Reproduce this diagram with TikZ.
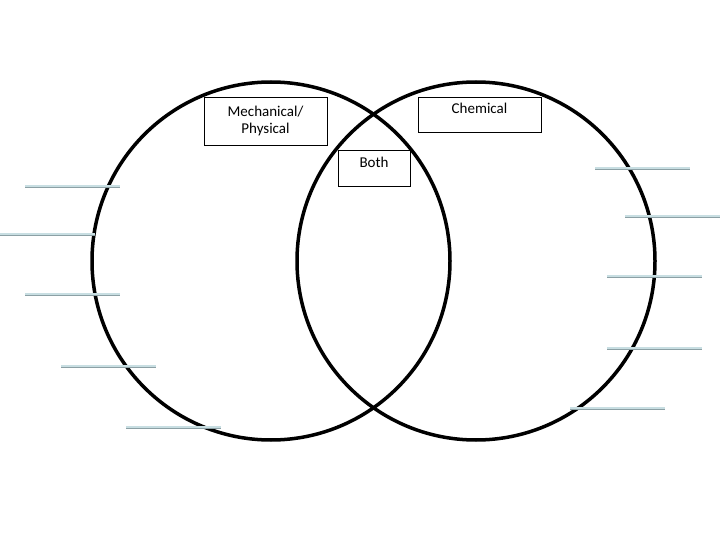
\documentclass[tikz,border=0pt]{standalone}
\usepackage{fontspec}
\setmainfont{Carlito}
\definecolor{blankblue}{RGB}{200,222,226}
\definecolor{blankedge}{RGB}{140,160,165}
\tikzset{
  ring/.style={draw=black, line width=3.5pt},
  labelbox/.style={draw=black, fill=white, line width=0.6pt, font=\fontsize{15}{17}\selectfont, align=center, inner sep=2pt},
  blank/.style={draw=blankblue, line width=2.5pt},
  blankshade/.style={draw=blankedge, line width=1pt}
}
\begin{document}
\begin{tikzpicture}[x=1pt,y=-1pt]
  \useasboundingbox (0,0) rectangle (720,540);
  % Circles
  \draw[ring] (271,261) circle (179);
  \draw[ring] (476,261) circle (179);
  % Label boxes
  \node[labelbox, minimum width=123pt, minimum height=48pt] (mech) at (265.5,121) {Mechanical/\\Physical};
  \node[labelbox, minimum width=123pt, minimum height=35pt, anchor=north] (chem) at (479.5,97) {};
  \node[anchor=north, font=\fontsize{15}{17}\selectfont] at (chem.north) [yshift=-3pt] {Chemical};
  \node[labelbox, minimum width=72pt, minimum height=36pt, anchor=north] (both) at (374,150) {};
  \node[anchor=north, font=\fontsize{15}{17}\selectfont] at (both.north) [yshift=-4pt] {Both};
  % Blank answer lines
  \foreach \xa/\ya in {25/186, 0/234, 25/294, 61/366, 126/427, 595/168, 625/216, 607/276, 607/348, 570/408}{
    \draw[blank] (\xa,\ya) -- ++(95,0);
    \draw[blankshade] (\xa,\ya+1.5) -- ++(95,0);
  }
\end{tikzpicture}
\end{document}
